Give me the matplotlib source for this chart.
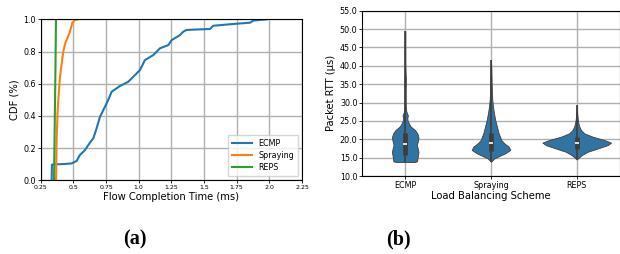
import numpy as np
import matplotlib
matplotlib.use("Agg")
import matplotlib.pyplot as plt

# --- (a) FCT CDF ---
ecmp_fct = [0.334, 0.336, 0.345, 0.42, 0.487, 0.525, 0.55, 0.589, 0.627, 0.653, 0.678,
            0.704, 0.742, 0.767, 0.793, 0.857, 0.92, 0.972, 1.01, 1.048, 1.112,
            1.163, 1.227, 1.253, 1.316, 1.341, 1.367, 1.546, 1.57, 1.725, 1.852,
            1.878, 1.98]
ecmp_cdf = [0.0, 0.097, 0.099, 0.101, 0.105, 0.12, 0.157, 0.188, 0.234, 0.261, 0.323,
            0.395, 0.457, 0.499, 0.55, 0.586, 0.612, 0.654, 0.685, 0.747, 0.778,
            0.82, 0.84, 0.871, 0.902, 0.923, 0.934, 0.94, 0.96, 0.971, 0.979,
            0.992, 1.0]
spray_fct = [0.368, 0.372, 0.38, 0.385, 0.398, 0.41, 0.423, 0.441, 0.449, 0.474, 0.492,
             0.512, 0.538]
spray_cdf = [0.0, 0.25, 0.437, 0.5, 0.643, 0.72, 0.8, 0.86, 0.871, 0.923, 0.977,
             0.995, 1.0]
reps_fct = [0.352, 0.356, 0.360, 0.364, 0.367]
reps_cdf = [0.0, 0.25, 0.5, 0.75, 1.0]

fct_ticks = [0.25, 0.5, 0.75, 1.0, 1.25, 1.5, 1.75, 2.0, 2.25]
cdf_ticks = [0.0, 0.2, 0.4, 0.6, 0.8, 1.0]

# --- (b) RTT violins: density profiles (relative half-width) per scheme ---
schemes = ["ECMP", "Spraying", "REPS"]
ecmp_rtt = [13.8, 14.0, 14.5, 15.5, 16.5, 17.5, 18.4, 19.5, 20.5, 21.5, 22.5, 23.5,
            24.3, 25.2, 25.8, 26.5, 27.3, 28.0, 30.0, 33.0, 35.0, 36.5, 38.0, 40.0,
            45.0, 49.5]
ecmp_dens = [9.0, 12.0, 12.3, 12.8, 13.5, 12.8, 11.8, 12.8, 13.5, 12.5, 10.0, 5.5,
             3.7, 2.3, 2.2, 2.7, 1.5, 0.8, 0.5, 0.5, 0.6, 0.7, 0.4, 0.2, 0.1, 0.0]
spray_rtt = [13.9, 14.8, 16.2, 17.1, 18.0, 18.9, 19.8, 21.6, 23.4, 25.2, 27.1, 28.9,
             30.7, 33.0, 36.0, 39.0, 41.5]
spray_dens = [0.0, 3.3, 14.3, 19.3, 17.7, 13.3, 10.3, 7.7, 6.0, 4.3, 3.0, 2.0, 1.3,
              0.9, 0.6, 0.4, 0.0]
reps_rtt = [14.5, 15.7, 16.6, 17.5, 18.4, 19.1, 19.8, 20.7, 21.6, 22.5, 23.4, 24.3,
            25.5, 27.0, 29.3]
reps_dens = [0.0, 5.0, 11.0, 21.0, 31.0, 34.5, 27.7, 16.0, 7.7, 4.3, 2.7, 1.7, 1.0,
             0.5, 0.0]
violin_widths = [0.31, 0.45, 0.8]
rtt_q1 = [15.7, 16.8, 17.3]
rtt_med = [18.7, 18.9, 19.1]
rtt_q3 = [21.6, 21.6, 20.7]
rtt_lo = [13.9, 13.9, 14.5]
rtt_hi = [49.5, 41.5, 29.3]
rtt_ticks = [10.0, 15.0, 20.0, 25.0, 30.0, 35.0, 40.0, 45.0, 50.0, 55.0]

plt.rcParams["font.family"] = "DejaVu Sans"
fig = plt.figure(figsize=(6.2, 2.54), dpi=100)

grid_kw = dict(color="#b0b0b0", linewidth=1.0)

# ---------- (a) ----------
ax1 = fig.add_axes([0.0656, 0.290, 0.4215, 0.634])
ax1.plot(ecmp_fct, ecmp_cdf, color="#1f77b4", lw=1.5, label="ECMP")
ax1.plot(spray_fct, spray_cdf, color="#ff7f0e", lw=1.5, label="Spraying")
ax1.plot(reps_fct, reps_cdf, color="#2ca02c", lw=1.5, label="REPS")
ax1.set_xlim(0.25, 2.25)
ax1.set_ylim(0, 1)
ax1.set_xticks(fct_ticks)
ax1.set_xticklabels([str(t) for t in fct_ticks], fontsize=4.5)
ax1.set_yticks(cdf_ticks)
ax1.set_yticklabels([f"{t:.1f}" for t in cdf_ticks], fontsize=5.8)
ax1.tick_params(length=2, width=0.6, pad=1.5)
ax1.grid(True, **grid_kw)
ax1.set_axisbelow(True)
ax1.set_xlabel("Flow Completion Time (ms)", fontsize=7.2, labelpad=1)
ax1.set_ylabel("CDF (%)", fontsize=7.2, labelpad=3)
ax1.legend(loc="lower right", fontsize=5.8, handlelength=2.5, borderpad=0.5,
           labelspacing=0.4, fancybox=False, framealpha=0.8)

# ---------- (b) ----------
ax2 = fig.add_axes([0.5844, 0.307, 0.4150, 0.651])
stats = []
for y, d, lo, hi, med in zip([ecmp_rtt, spray_rtt, reps_rtt],
                             [ecmp_dens, spray_dens, reps_dens],
                             rtt_lo, rtt_hi, rtt_med):
    stats.append(dict(coords=np.array(y), vals=np.array(d), mean=med, median=med,
                      min=lo, max=hi))
pos = np.arange(len(schemes))
parts = ax2.violin(stats, positions=pos, widths=violin_widths,
                   showmeans=False, showextrema=False, showmedians=False)
for body in parts["bodies"]:
    body.set_facecolor("#3274a1")
    body.set_edgecolor("#3d3d3d")
    body.set_linewidth(0.6)
    body.set_alpha(1)
    body.set_zorder(2)
ax2.vlines(pos, rtt_lo, rtt_hi, color="#3d3d3d", lw=1.2, zorder=3)
ax2.vlines(pos, rtt_q1, rtt_q3, color="#3d3d3d", lw=3.4, zorder=4)
ax2.scatter(pos, rtt_med, marker="_", s=8, color="white", linewidths=1.2, zorder=5)
ax2.set_xlim(-0.5, 2.5)
ax2.set_ylim(10, 55)
ax2.set_xticks(pos)
ax2.set_xticklabels(schemes, fontsize=5.8)
ax2.set_yticks(rtt_ticks)
ax2.set_yticklabels([f"{t:.1f}" for t in rtt_ticks], fontsize=5.8)
ax2.tick_params(length=2, width=0.6, pad=1.5)
ax2.grid(True, **grid_kw)
ax2.set_axisbelow(True)
ax2.set_xlabel("Load Balancing Scheme", fontsize=7.2, labelpad=1)
ax2.set_ylabel("Packet RTT (μs)", fontsize=7.2, labelpad=3)

fig.text(134.5 / 620, 1 - 239.7 / 254, "(a)", ha="center", va="center",
         fontsize=14.5, fontweight="bold", family="Liberation Serif")
fig.text(398 / 620, 1 - 239.7 / 254, "(b)", ha="center", va="center",
         fontsize=14.5, fontweight="bold", family="Liberation Serif")

fig.savefig("out.png", dpi=100)
